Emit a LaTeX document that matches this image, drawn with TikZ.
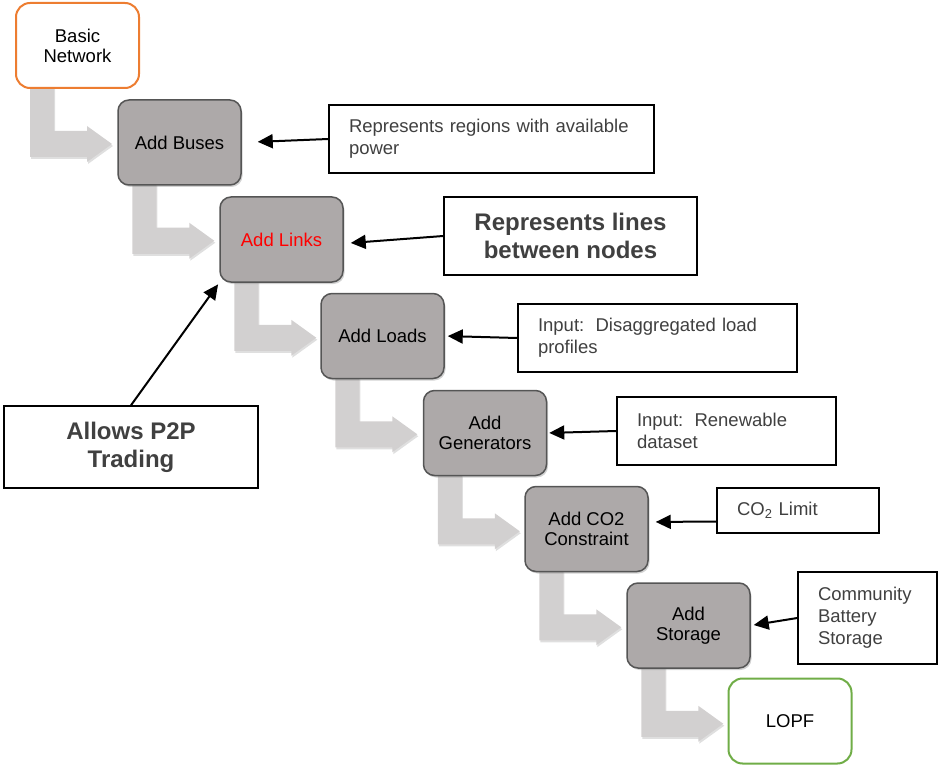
\documentclass[tikz,border=0pt]{standalone}
\usepackage{fontspec}
\setmainfont{Liberation Sans}
\usepackage{tikz}
\usetikzlibrary{arrows.meta,calc,shadows,backgrounds}

\definecolor{boxgray}{RGB}{173,169,169}
\definecolor{boxline}{RGB}{85,85,85}
\definecolor{flowgray}{RGB}{210,208,208}
\definecolor{notetext}{RGB}{64,64,64}
\definecolor{startorange}{RGB}{237,125,49}
\definecolor{endgreen}{RGB}{112,173,71}

\tikzset{
    stepbox/.style={draw=boxline, line width=1.5pt, fill=boxgray, rounded corners=11pt,
        minimum width=123pt, minimum height=85pt, align=center,
        font=\fontsize{18.5}{20}\selectfont,
        drop shadow={opacity=0.35, shadow xshift=1.5pt, shadow yshift=-2pt}},
    endbox/.style={draw, line width=2pt, fill=white, rounded corners=14pt,
        minimum width=123pt, minimum height=85pt, align=center,
        font=\fontsize{18.5}{20}\selectfont},
    notebox/.style={draw, line width=1.5pt, fill=white, align=left, inner xsep=20pt,
        text=notetext, font=\fontsize{18.5}{22}\selectfont},
    bignote/.style={draw, line width=1.5pt, fill=white, align=center,
        text=notetext, font=\fontsize{24}{28}\selectfont\bfseries},
    pointer/.style={-{Triangle[length=15pt,width=14pt]}, line width=2pt},
    flowarrow/.style={fill=flowgray,
        drop shadow={opacity=0.25, shadow xshift=1pt, shadow yshift=-2pt}}
}

\begin{document}
\begin{tikzpicture}[x=1pt, y=-1pt]
    \useasboundingbox (0,0) rectangle (938,765);

    % Steps
    \node[endbox, draw=startorange] (basic) at (77.5,45.5) {Basic\\Network};
    \node[stepbox] (buses) at (179.5,142.5) {Add Buses};
    \node[stepbox, text=red] (links) at (281.5,239.5) {Add Links};
    \node[stepbox] (loads) at (382.5,336) {Add Loads};
    \node[stepbox] (gens) at (485,433) {Add\\Generators};
    \node[stepbox] (co2) at (586.5,529) {Add CO2\\Constraint};
    \node[stepbox] (storage) at (688.5,625.5) {Add\\Storage};
    \node[endbox, draw=endgreen] (lopf) at (790,721) {LOPF};

    % Bent arrows between steps
    \begin{pgfonlayer}{background}
    \foreach \a/\b in {basic/buses, buses/links, links/loads, loads/gens, gens/co2, co2/storage, storage/lopf}
        \fill[flowarrow] ($(\a.south west)+(15,-2)$) -- ++(24,0) -- ++(0,44) -- ++(33,0)
            -- ++(0,-5) -- ++(25,18) -- ++(-25,18) -- ++(0,-5) -- ++(-57,0) -- cycle;
    \end{pgfonlayer}

    % Notes
    \node[notebox, text width=285pt, minimum height=68pt] (regions) at (491.5,139)
        {Represents regions with available\\power};
    \node[bignote, minimum width=253pt, minimum height=78pt] (lines) at (570.5,236)
        {Represents lines\\between nodes};
    \node[bignote, minimum width=254pt, minimum height=82pt] (ptop) at (131,447)
        {Allows P2P\\Trading};
    \node[notebox, text width=239pt, minimum height=68pt] (loadin) at (657.5,338)
        {Input:\hspace{2pt} Disaggregated load\\profiles};
    \node[notebox, text width=179pt, minimum height=68pt] (renew) at (726.5,431)
        {Input:\hspace{2pt} Renewable\\dataset};
    \node[notebox, text width=122pt, minimum height=45pt] (limit) at (798,510.5)
        {CO\textsubscript{2} Limit};
    \node[notebox, text width=99pt, minimum height=92pt] (battery) at (867.5,618)
        {Community\\Battery\\Storage};

    % Pointers
    \draw[pointer, shorten >=16pt] (regions.west) -- (buses.east);
    \draw[pointer, shorten >=7pt] (lines.west) -- ([yshift=-4pt]links.east);
    \draw[pointer, shorten >=3pt] (loadin.west) -- (loads.east);
    \draw[pointer, shorten >=2pt] (renew.west) -- (gens.east);
    \draw[pointer, shorten >=7pt] ([yshift=-11pt]limit.west) -- ([yshift=7pt]co2.east);
    \draw[pointer, shorten >=3pt] (battery.west) -- (storage.east);
    \draw[pointer, shorten >=2pt] (ptop.north) -- (links.south west);
\end{tikzpicture}
\end{document}
